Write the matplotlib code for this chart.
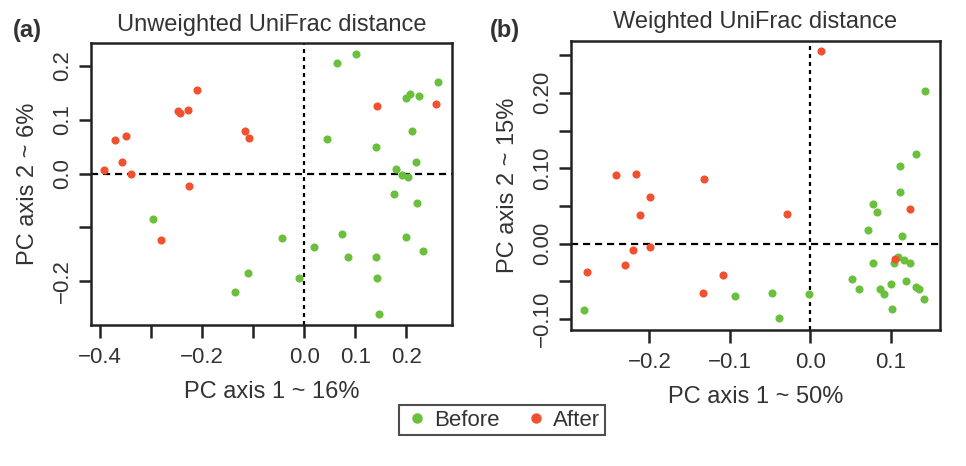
import matplotlib
matplotlib.use("Agg")
import matplotlib.pyplot as plt
from matplotlib.lines import Line2D

plt.rcParams['font.family'] = ['Liberation Sans', 'DejaVu Sans']

GREEN = "#6abf3c"
RED = "#f1512f"
TXT = "#333333"

# Panel (a) - Unweighted UniFrac
a_before_x = [0.064, 0.101, 0.262, 0.199, 0.208, 0.225, 0.211, 0.044, 0.140, 0.220,
              0.180, 0.192, 0.203, 0.176, 0.221, -0.296, -0.043, 0.074, 0.020, 0.199,
              0.232, 0.085, 0.140, 0.142, -0.011, -0.110, -0.135, 0.147]
a_before_y = [0.205, 0.223, 0.170, 0.141, 0.147, 0.144, 0.080, 0.065, 0.050, 0.021,
              0.009, -0.003, -0.006, -0.037, -0.055, -0.084, -0.119, -0.113, -0.137, -0.118,
              -0.143, -0.155, -0.155, -0.194, -0.194, -0.185, -0.220, -0.260]
a_after_x = [-0.392, -0.371, -0.349, -0.357, -0.339, -0.248, -0.244, -0.227, -0.210, -0.225,
             -0.281, -0.117, -0.108, 0.142, 0.258]
a_after_y = [0.007, 0.063, 0.070, 0.022, 0.000, 0.116, 0.113, 0.119, 0.155, -0.023,
             -0.124, 0.079, 0.066, 0.126, 0.130]

# Panel (b) - Weighted UniFrac
b_before_x = [0.143, 0.131, 0.112, 0.112, 0.078, 0.083, 0.072, 0.114, 0.078, 0.104,
              0.109, 0.117, 0.124, 0.052, 0.061, 0.087, 0.092, 0.100, 0.119, 0.131,
              0.135, 0.141, 0.102, -0.001, -0.047, -0.093, -0.039, -0.281]
b_before_y = [0.203, 0.119, 0.103, 0.068, 0.052, 0.042, 0.018, 0.010, -0.026, -0.026,
              -0.018, -0.022, -0.025, -0.047, -0.060, -0.060, -0.067, -0.053, -0.050, -0.057,
              -0.060, -0.073, -0.086, -0.067, -0.065, -0.069, -0.099, -0.088]
b_after_x = [0.013, -0.241, -0.217, -0.132, -0.199, -0.212, -0.029, 0.124, -0.220, -0.199,
             -0.230, -0.277, -0.108, -0.133, 0.105]
b_after_y = [0.255, 0.091, 0.092, 0.086, 0.062, 0.038, 0.039, 0.046, -0.008, -0.004,
             -0.028, -0.038, -0.042, -0.065, -0.021]

a_xticks = [-0.4, -0.3, -0.2, -0.1, 0.0, 0.1, 0.2]
a_xlabels = ["\u22120.4", "", "\u22120.2", "", "0.0", "0.1", "0.2"]
a_yticks = [-0.2, -0.1, 0.0, 0.1, 0.2]
a_ylabels = ["\u22120.2", "", "0.0", "0.1", "0.2"]
b_xticks = [-0.2, -0.1, 0.0, 0.1]
b_xlabels = ["\u22120.2", "\u22120.1", "0.0", "0.1"]
b_yticks = [-0.10, -0.05, 0.00, 0.05, 0.10, 0.15, 0.20, 0.25]
b_ylabels = ["\u22120.10", "", "0.00", "", "0.10", "", "0.20", ""]

fig = plt.figure(figsize=(9.66, 4.66), dpi=100)
axA = fig.add_axes([0.0942, 0.3026, 0.468 - 0.0942, 0.9077 - 0.3026])
axB = fig.add_axes([0.591, 0.2918, 0.973 - 0.591, 0.9127 - 0.2918])

TFS = 16     # tick labels
LFS = 17     # axis labels / titles


def style(ax, xt, xl, yt, yl, xlim, ylim, xlabel, ylabel, title):
    ax.axhline(0, color="black", ls=(0, (3.2, 2.2)), lw=1.6, zorder=1)
    ax.axvline(0, color="black", ls=(0, (1.8, 1.8)), lw=1.6, zorder=1)
    ax.set_xlim(*xlim)
    ax.set_ylim(*ylim)
    ax.set_xticks(xt)
    ax.set_xticklabels(xl)
    ax.set_yticks(yt)
    ax.set_yticklabels(yl, rotation=90, va="center")
    ax.tick_params(direction="out", length=9, width=1.8, labelsize=TFS,
                   colors="#222222", labelcolor=TXT)
    ax.tick_params(axis="x", pad=7)
    ax.tick_params(axis="y", pad=4)
    for s in ax.spines.values():
        s.set_linewidth(1.8)
        s.set_color("#222222")
    ax.set_xlabel(xlabel, fontsize=LFS, color=TXT, labelpad=9)
    ax.set_ylabel(ylabel, fontsize=LFS, color=TXT, labelpad=9)
    ax.set_title(title, fontsize=LFS, color=TXT, pad=9)


MS = 34
axA.scatter(a_before_x, a_before_y, s=MS, color=GREEN, zorder=3, linewidths=0)
axA.scatter(a_after_x, a_after_y, s=MS, color=RED, zorder=3, linewidths=0)
style(axA, a_xticks, a_xlabels, a_yticks, a_ylabels, (-0.418, 0.290), (-0.281, 0.2425),
      "PC axis 1 ~ 16%", "PC axis 2 ~ 6%", "Unweighted UniFrac distance")

axB.scatter(b_before_x, b_before_y, s=MS, color=GREEN, zorder=3, linewidths=0)
axB.scatter(b_after_x, b_after_y, s=MS, color=RED, zorder=3, linewidths=0)
style(axB, b_xticks, b_xlabels, b_yticks, b_ylabels, (-0.2976, 0.1612), (-0.1145, 0.2691),
      "PC axis 1 ~ 50%", "PC axis 2 ~ 15%", "Weighted UniFrac distance")

fig.text(13 / 966, 1 - 30 / 466, "(a)", fontsize=LFS, fontweight="bold", color=TXT, va="center")
fig.text(490 / 966, 1 - 30 / 466, "(b)", fontsize=LFS, fontweight="bold", color=TXT, va="center")

handles = [Line2D([], [], ls="", marker="o", ms=6.5, color=GREEN, mec=GREEN),
           Line2D([], [], ls="", marker="o", ms=6.5, color=RED, mec=RED)]
leg = fig.legend(handles, ["Before", "After"], loc="center", bbox_to_anchor=(502 / 966, 1 - 420 / 466),
                 ncol=2, fontsize=16, frameon=True, fancybox=False, edgecolor="#222222",
                 handletextpad=0.2, columnspacing=1.0, borderpad=0.2, handlelength=1.2)
leg.get_frame().set_linewidth(1.5)
for t in leg.get_texts():
    t.set_color(TXT)

fig.savefig("out.png", dpi=100)
